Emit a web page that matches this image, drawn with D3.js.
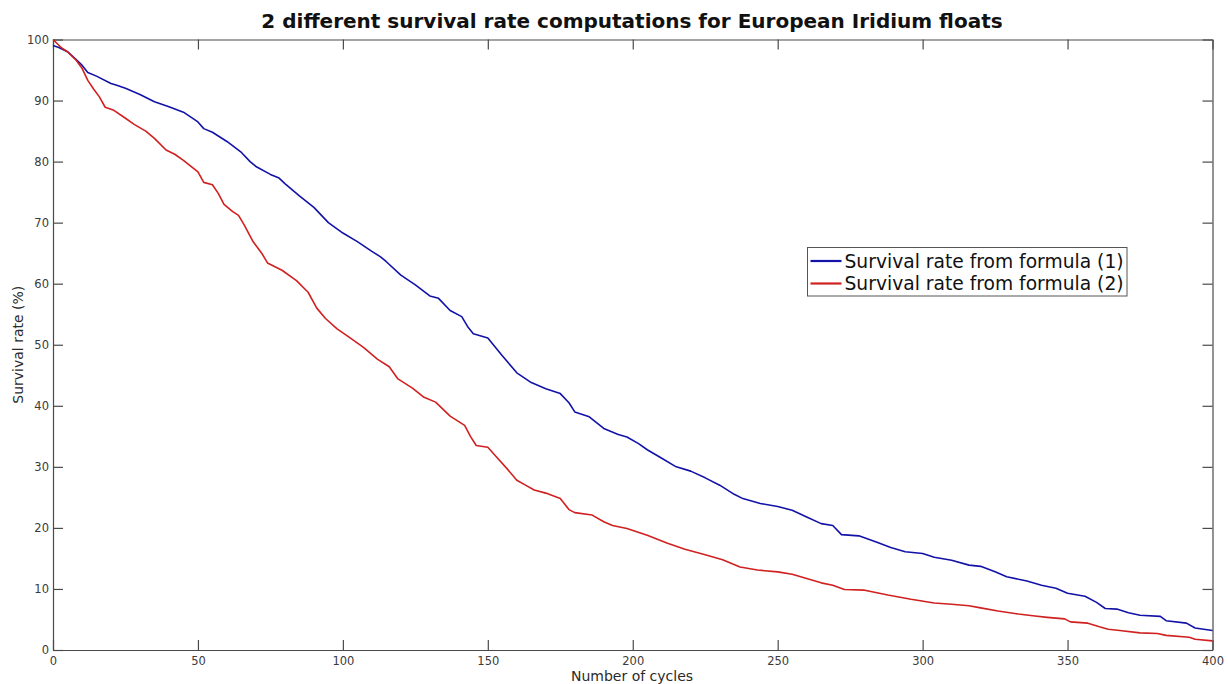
<!DOCTYPE html>
<html>
<head>
<meta charset="utf-8">
<script src="https://cdn.jsdelivr.net/npm/d3@7"></script>
<style>
  html, body { margin: 0; padding: 0; background: #fff; }
  svg { display: block; font-family: "DejaVu Sans", sans-serif; }
</style>
</head>
<body>
<svg id="chart" width="1228" height="684"></svg>
<script>
// Survival rate (%) against number of cycles, formula (1)
const cycles1 = [0,2,5,8,10,12,15,20,22,25,30,35,40,45,50,52,55,60,65,68,70,75,78,80,85,90,95,100,105,110,113,115,120,125,130,133,137,141,143,145,150,155,160,165,170,175,178,180,185,190,195,198,202,205,210,215,220,225,230,235,238,244,250,255,260,265,269,272,278,284,289,294,300,304,310,316,320,325,329,336,341,346,350,356,360,363,367,371,375,382,384,391,394,397,400];
const rate1 = [99.0,98.7,98.0,96.7,95.8,94.6,94.0,92.8,92.5,92.0,91.0,89.8,89.0,88.1,86.5,85.4,84.8,83.3,81.5,80.0,79.2,77.9,77.3,76.4,74.4,72.5,70.0,68.3,66.9,65.3,64.4,63.6,61.4,59.8,58.0,57.6,55.6,54.6,53.0,51.8,51.1,48.2,45.4,43.8,42.8,42.0,40.5,39.0,38.2,36.3,35.3,34.9,33.8,32.8,31.4,30.0,29.3,28.2,27.0,25.5,24.8,24.0,23.5,22.9,21.8,20.7,20.4,18.9,18.7,17.7,16.8,16.1,15.8,15.2,14.7,13.9,13.7,12.8,12.0,11.3,10.6,10.1,9.3,8.8,7.8,6.8,6.7,6.1,5.7,5.5,4.8,4.4,3.6,3.4,3.2];

// Survival rate (%) against number of cycles, formula (2)
const cycles2 = [0,3,5,8,10,12,14,16,18,21,25,28,32,35,39,42,45,50,52,55,57,59,62,64,66,69,72,74,79,84,88,91,94,98,102,107,112,116,119,124,128,132,137,142,144,146,150,153,157,160,163,166,170,175,178,180,186,190,193,198,205,212,218,225,231,237,243,250,255,260,265,269,273,280,288,296,304,310,316,320,326,333,338,343,349,351,357,361,364,368,375,381,384,392,394,400];
const rate2 = [100,98.6,98.0,96.6,95.3,93.3,91.9,90.6,88.9,88.4,87.1,86.1,85.0,83.8,81.9,81.2,80.2,78.3,76.6,76.2,74.8,73.0,71.8,71.2,69.6,66.9,65.0,63.4,62.2,60.5,58.6,56.0,54.3,52.6,51.3,49.6,47.6,46.4,44.4,42.9,41.4,40.6,38.3,36.8,35.0,33.5,33.2,31.6,29.5,27.8,27.0,26.2,25.7,24.8,23.0,22.5,22.1,21.0,20.4,19.9,18.8,17.5,16.5,15.6,14.8,13.6,13.1,12.8,12.4,11.7,11.0,10.6,9.9,9.8,9.0,8.3,7.7,7.5,7.25,6.9,6.4,5.9,5.6,5.35,5.1,4.6,4.4,3.8,3.4,3.2,2.8,2.7,2.4,2.1,1.75,1.5];

const xTicks = [0,50,100,150,200,250,300,350,400];
const yTicks = [0,10,20,30,40,50,60,70,80,90,100];
const seriesNames = ["Survival rate from formula (1)", "Survival rate from formula (2)"];
const seriesColors = ["#1212a8", "#d02020"];

const svg = d3.select("#chart");
const m = { left: 53, right: 1212.5, top: 39.5, bottom: 650 };
const x = d3.scaleLinear().domain([0, 400]).range([m.left, m.right]);
const y = d3.scaleLinear().domain([0, 100]).range([m.bottom, m.top]);
const axisColor = "#4a4a4a";
const tickLen = 10;

// Title
svg.append("text")
  .attr("x", 632).attr("y", 28)
  .attr("text-anchor", "middle")
  .attr("font-size", 20).attr("font-weight", "bold").attr("fill", "#111")
  .text("2 different survival rate computations for European Iridium floats");

// Axes: labelled bottom/left, mirrored ticks on top/right, all pointing inward
function styleAxis(g) {
  g.selectAll("path").attr("stroke", axisColor).attr("stroke-width", 1.2);
  g.selectAll("line").attr("stroke", axisColor).attr("stroke-width", 1.2);
  g.selectAll("text").attr("fill", "#3a3a3a").attr("font-size", 11.5)
    .attr("font-family", "DejaVu Sans, sans-serif");
}
svg.append("g").attr("transform", `translate(0,${m.bottom})`)
  .call(d3.axisBottom(x).tickValues(xTicks).tickSizeInner(-tickLen).tickSizeOuter(0).tickPadding(7))
  .call(styleAxis);
svg.append("g").attr("transform", `translate(0,${m.top})`)
  .call(d3.axisTop(x).tickValues(xTicks).tickSizeInner(-tickLen).tickSizeOuter(0).tickFormat(""))
  .call(styleAxis);
svg.append("g").attr("transform", `translate(${m.left},0)`)
  .call(d3.axisLeft(y).tickValues(yTicks).tickSizeInner(-tickLen).tickSizeOuter(0).tickPadding(4))
  .call(styleAxis);
svg.append("g").attr("transform", `translate(${m.right},0)`)
  .call(d3.axisRight(y).tickValues(yTicks).tickSizeInner(-tickLen).tickSizeOuter(0).tickFormat(""))
  .call(styleAxis);

// Axis titles
svg.append("text")
  .attr("x", 632).attr("y", 680.5)
  .attr("text-anchor", "middle").attr("font-size", 14).attr("fill", "#2a2a2a")
  .text("Number of cycles");
svg.append("text")
  .attr("transform", `translate(23,${(m.top + m.bottom) / 2}) rotate(-90)`)
  .attr("text-anchor", "middle").attr("font-size", 14).attr("fill", "#2a2a2a")
  .text("Survival rate (%)");

// Curves
const line = d3.line().x(d => x(d[0])).y(d => y(d[1]));
const series = [d3.zip(cycles1, rate1), d3.zip(cycles2, rate2)];
series.forEach((pts, i) => {
  svg.append("path").datum(pts)
    .attr("d", line).attr("fill", "none")
    .attr("stroke", seriesColors[i]).attr("stroke-width", 1.6)
    .attr("stroke-linejoin", "round");
});

// Legend
const lg = svg.append("g").attr("transform", "translate(807.5,247.5)");
lg.append("rect").attr("width", 319.5).attr("height", 48.5)
  .attr("fill", "#fff").attr("stroke", "#555").attr("stroke-width", 1);
seriesNames.forEach((name, i) => {
  const cy = 13.5 + i * 22.5;
  lg.append("line").attr("x1", 3).attr("x2", 34).attr("y1", cy).attr("y2", cy)
    .attr("stroke", seriesColors[i]).attr("stroke-width", 2.2);
  lg.append("text").attr("x", 37).attr("y", cy + 6.5)
    .attr("font-size", 18.7).attr("fill", "#111").text(name);
});
</script>
</body>
</html>
